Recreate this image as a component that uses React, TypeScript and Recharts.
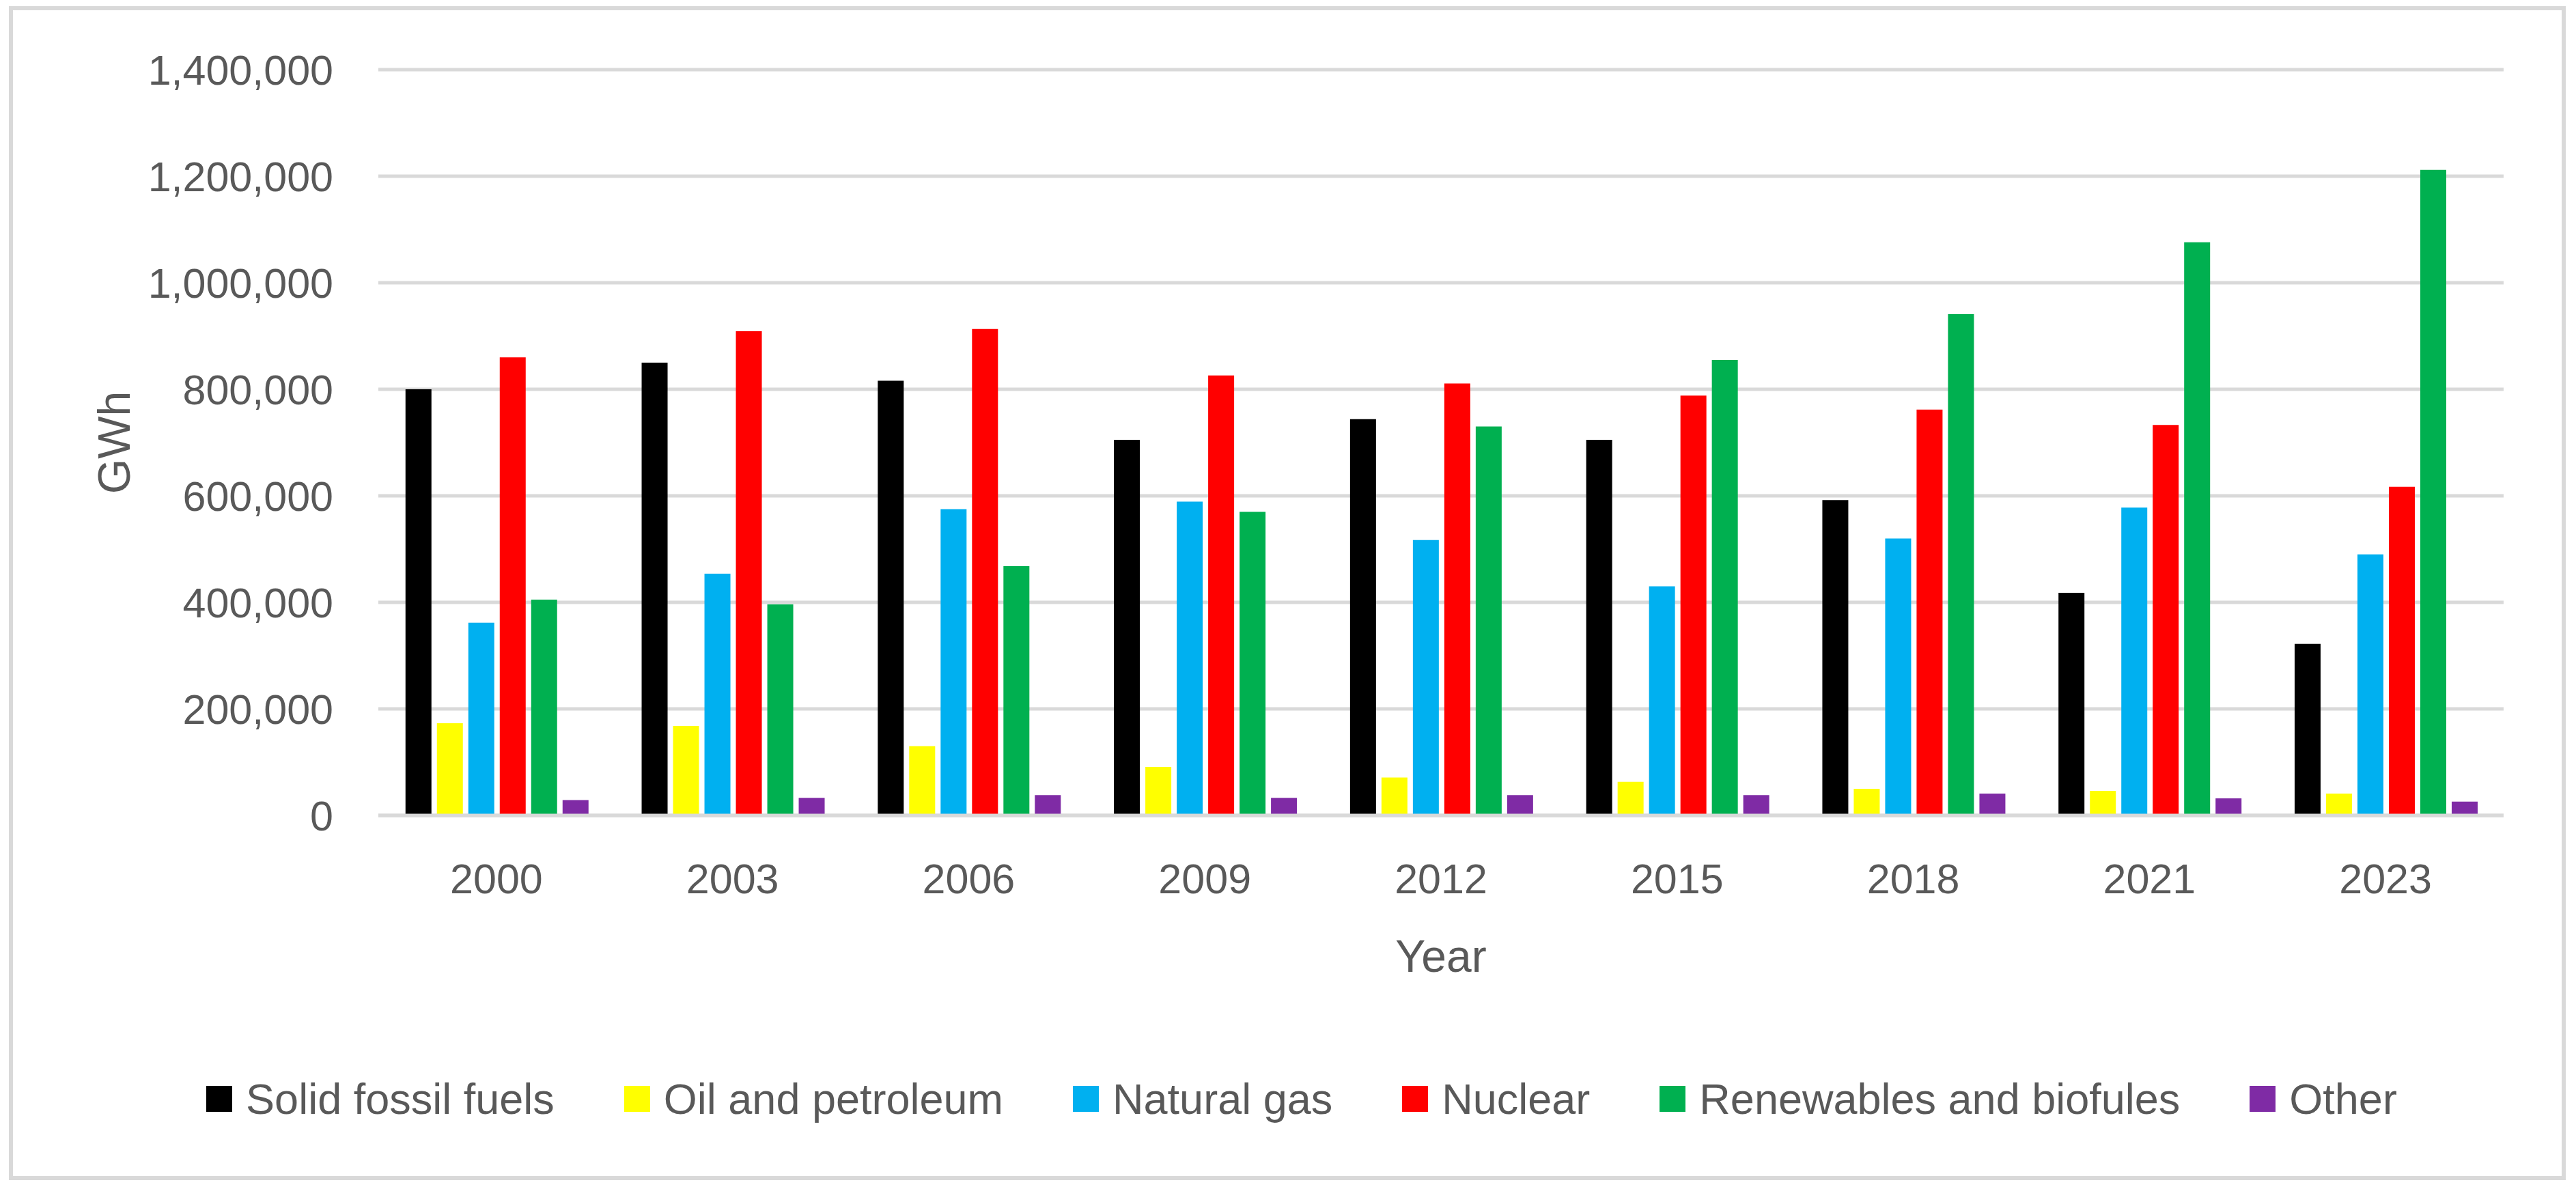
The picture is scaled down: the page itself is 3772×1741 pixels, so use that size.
import React from "react"
import { Bar, BarChart, CartesianGrid, Legend, XAxis, YAxis } from "recharts"

const years = ["2000", "2003", "2006", "2009", "2012", "2015", "2018", "2021", "2023"]

// GWh
const solidFossilFuels = [800000, 850000, 816000, 705000, 744000, 705000, 592000, 418000, 322000]
const oilAndPetroleum = [173000, 168000, 130000, 91000, 71000, 63000, 50000, 46000, 41000]
const naturalGas = [362000, 454000, 575000, 589000, 517000, 430000, 520000, 578000, 490000]
const nuclear = [860000, 909000, 913000, 826000, 811000, 788000, 762000, 733000, 617000]
const renewables = [405000, 396000, 468000, 570000, 730000, 855000, 941000, 1076000, 1212000]
const other = [29000, 33000, 38000, 33000, 38000, 38000, 41000, 32000, 26000]

const yTicks = [0, 200000, 400000, 600000, 800000, 1000000, 1200000, 1400000]

const series = [
  { key: "solid", name: "Solid fossil fuels", color: "#000000", values: solidFossilFuels },
  { key: "oil", name: "Oil and petroleum", color: "#FFFF00", values: oilAndPetroleum },
  { key: "gas", name: "Natural gas", color: "#00B0F0", values: naturalGas },
  { key: "nuclear", name: "Nuclear", color: "#FF0000", values: nuclear },
  { key: "renew", name: "Renewables and biofules", color: "#00B050", values: renewables },
  { key: "other", name: "Other", color: "#7F2BA5", values: other },
]

const chartData = years.map((year, i) => {
  const row: { [k: string]: string | number } = { year }
  series.forEach(s => {
    row[s.key] = s.values[i]
  })
  return row
})

const FONT = "'Liberation Sans', Arial, sans-serif"
const TEXT_COLOR = "#595959"
const GRID_COLOR = "#D9D9D9"

function YTitle(props: any) {
  const vb = props.viewBox || { x: 0, y: 0, height: 0 }
  const cx = vb.x + 167
  const cy = vb.y + vb.height / 2
  return (
    <text
      x={cx}
      y={cy}
      transform={`rotate(-90 ${cx} ${cy})`}
      textAnchor="middle"
      dominantBaseline="central"
      fill={TEXT_COLOR}
      fontSize={66}
      fontFamily={FONT}
    >
      GWh
    </text>
  )
}

function LegendContent(props: any) {
  // keep the series order instead of the alphabetical one
  const order = series.map(s => s.name)
  const payload = [...(props.payload || [])].sort(
    (a: any, b: any) => order.indexOf(a.value) - order.indexOf(b.value)
  )
  return (
    <div
      style={{
        display: "flex",
        justifyContent: "center",
        alignItems: "center",
        gap: 102,
        paddingLeft: 40,
        height: 76,
        fontFamily: FONT,
        fontSize: 63,
        color: TEXT_COLOR,
      }}
    >
      {payload.map((entry: any, index: number) => (
        <div key={index} style={{ display: "flex", alignItems: "center", whiteSpace: "nowrap" }}>
          <span style={{ display: "inline-block", width: 38, height: 38, background: entry.color, marginRight: 20 }} />
          <span>{entry.value}</span>
        </div>
      ))}
    </div>
  )
}

export default function App() {
  return (
    <div style={{ position: "absolute", left: 0, top: 0, width: 3772, height: 1741, background: "#ffffff" }}>
      <div
        style={{
          position: "absolute",
          left: 13,
          top: 9,
          width: 3744,
          height: 1719,
          border: `6px solid ${GRID_COLOR}`,
          boxSizing: "border-box",
        }}
      />
      <div style={{ position: "absolute", left: 0, top: 0 }}>
        <BarChart
          width={3772}
          height={1741}
          data={chartData}
          margin={{ top: 102, right: 106, bottom: 0, left: 0 }}
          barCategoryGap="11.5%"
          barGap={8}
        >
          <CartesianGrid vertical={false} stroke={GRID_COLOR} strokeWidth={5} />
          <XAxis
            dataKey="year"
            height={547}
            tickLine={false}
            tickSize={0}
            tickMargin={71}
            axisLine={{ stroke: GRID_COLOR, strokeWidth: 5 }}
            tick={{ fill: TEXT_COLOR, fontSize: 61, fontFamily: FONT }}
            label={{ value: "Year", position: "insideTop", offset: 182, fill: TEXT_COLOR, fontSize: 66, fontFamily: FONT }}
          />
          <YAxis
            width={554}
            domain={[0, 1400000]}
            ticks={yTicks}
            interval={0}
            axisLine={false}
            tickLine={false}
            tickSize={0}
            tickMargin={66}
            tick={{ fill: TEXT_COLOR, fontSize: 61, fontFamily: FONT }}
            tickFormatter={(v: number) => v.toLocaleString("en-US")}
            label={<YTitle />}
          />
          <Legend
            verticalAlign="middle"
            align="center"
            content={<LegendContent />}
            wrapperStyle={{ left: 0, top: 1571, width: 3772 }}
          />
          {series.map(s => (
            <Bar key={s.key} dataKey={s.key} name={s.name} fill={s.color} isAnimationActive={false} />
          ))}
        </BarChart>
      </div>
    </div>
  )
}
